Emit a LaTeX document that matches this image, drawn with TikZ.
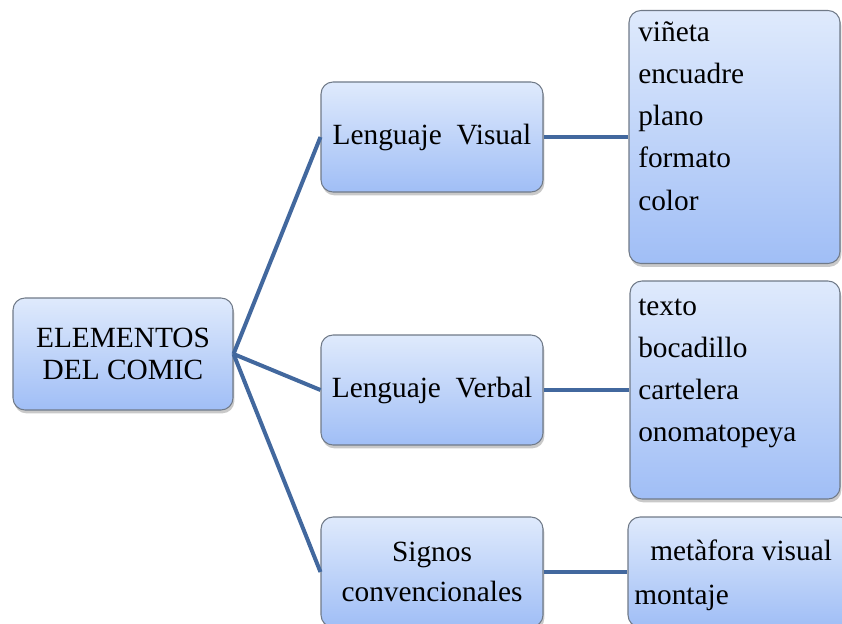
\documentclass[tikz,border=0pt]{standalone}
\usepackage{fontspec}
\setmainfont{Liberation Serif}
\usetikzlibrary{shadows}
\definecolor{boxtop}{RGB}{223,234,252}
\definecolor{boxbottom}{RGB}{160,190,246}
\definecolor{boxborder}{RGB}{112,122,136}
\definecolor{linkblue}{RGB}{66,104,158}

\tikzset{
  box/.style={draw=boxborder, line width=0.8pt, rounded corners=9pt,
    top color=boxtop, bottom color=boxbottom,
    drop shadow={shadow xshift=1pt, shadow yshift=-2.5pt, opacity=0.3, fill=black!70},
    inner sep=0pt, align=center, font=\fontsize{22}{24}\selectfont},
  link/.style={linkblue, line width=3pt},
  item/.style={anchor=base west, inner sep=0pt, font=\fontsize{22}{24}\selectfont}
}

\begin{document}
\begin{tikzpicture}[x=0.75pt, y=-0.75pt]
\useasboundingbox (0,0) rectangle (842,624);

% Root
\node[box, minimum width=165pt, minimum height=84pt] (root) at (123,354) {ELEMENTOS\\DEL COMIC};

% Second level
\node[box, minimum width=166.5pt, minimum height=82.5pt] (visual) at (432,137) {Lenguaje~~Visual};
\node[box, minimum width=166.5pt, minimum height=82.5pt] (verbal) at (432,390) {Lenguaje~~Verbal};
\node[box, minimum width=166.5pt, minimum height=82.5pt] (signos) at (432,572) {Signos\\[6pt]convencionales};

% Lists
\node[box, minimum width=158.25pt, minimum height=189.75pt] (visualList) at (734.5,137) {};
\node[box, minimum width=157.5pt, minimum height=163.5pt] (verbalList) at (735,390) {};
\node[box, minimum width=168pt, minimum height=82.5pt] (signosList) at (740,572) {};

\foreach \w [count=\i] in {viñeta, encuadre, plano, formato, color}
  \node[item] (visual-\i) at (638,{42+42*(\i-1)}) {\w};
\foreach \w [count=\i] in {texto, bocadillo, cartelera, onomatopeya}
  \node[item] (verbal-\i) at (638,{315+42*(\i-1)}) {\w};
\node[item] (signos-1) at (650,560) {metàfora visual};
\node[item] (signos-2) at (634,604) {montaje};

% Connectors
\draw[link] (root.east) -- (visual.west);
\draw[link] (root.east) -- (verbal.west);
\draw[link] (root.east) -- (signos.west);
\draw[link] (visual.east) -- (visualList.west);
\draw[link] (verbal.east) -- (verbalList.west);
\draw[link] (signos.east) -- (signosList.west);

\end{tikzpicture}
\end{document}
